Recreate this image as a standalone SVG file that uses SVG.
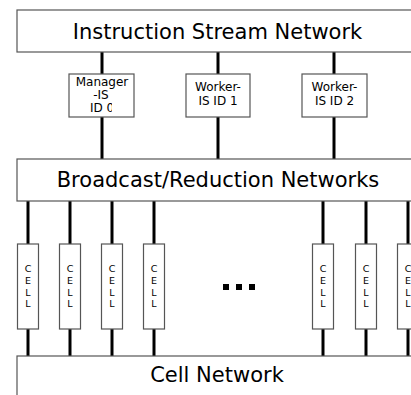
<svg xmlns="http://www.w3.org/2000/svg" width="411" height="395" viewBox="0 0 411 395">
  <style>
    .box { fill: #ffffff; stroke: #555555; stroke-width: 1.2; }
    .wire { stroke: #000000; stroke-width: 3; fill: none; }
    .big { font-family: "DejaVu Sans", Verdana, sans-serif; font-size: 21px; fill: #000000; text-anchor: middle; }
    .small { font-family: "DejaVu Sans", Verdana, sans-serif; font-size: 12px; fill: #000000; text-anchor: middle; }
    .cell { font-family: "DejaVu Sans", Verdana, sans-serif; font-size: 9.5px; fill: #000000; text-anchor: middle; }
    .dots { fill: #000000; }
  </style>
  <defs>
    <clipPath id="mgrClip">
      <rect x="69" y="74" width="43" height="43"/>
    </clipPath>
  </defs>
  <rect width="411" height="395" fill="#ffffff"/>

  <!-- connectors -->
  <g id="connectors">
    <line class="wire" x1="102" y1="52" x2="102" y2="74"/>
    <line class="wire" x1="218" y1="52" x2="218" y2="74"/>
    <line class="wire" x1="334" y1="52" x2="334" y2="74"/>
    <line class="wire" x1="102" y1="117" x2="102" y2="159"/>
    <line class="wire" x1="218" y1="117" x2="218" y2="159"/>
    <line class="wire" x1="334" y1="117" x2="334" y2="159"/>

    <line class="wire" x1="28" y1="201" x2="28" y2="244"/>
    <line class="wire" x1="70" y1="201" x2="70" y2="244"/>
    <line class="wire" x1="112" y1="201" x2="112" y2="244"/>
    <line class="wire" x1="154" y1="201" x2="154" y2="244"/>
    <line class="wire" x1="323" y1="201" x2="323" y2="244"/>
    <line class="wire" x1="366" y1="201" x2="366" y2="244"/>
    <line class="wire" x1="408" y1="201" x2="408" y2="244"/>

    <line class="wire" x1="28" y1="329" x2="28" y2="356"/>
    <line class="wire" x1="70" y1="329" x2="70" y2="356"/>
    <line class="wire" x1="112" y1="329" x2="112" y2="356"/>
    <line class="wire" x1="154" y1="329" x2="154" y2="356"/>
    <line class="wire" x1="323" y1="329" x2="323" y2="356"/>
    <line class="wire" x1="366" y1="329" x2="366" y2="356"/>
    <line class="wire" x1="408" y1="329" x2="408" y2="356"/>
  </g>

  <!-- instruction stream network -->
  <g id="isn">
    <rect class="box" x="17" y="10" width="410" height="42"/>
    <text class="big" x="217.5" y="38.5">Instruction Stream Network</text>
  </g>

  <!-- instruction stream processors -->
  <g id="manager-is">
    <rect class="box" x="69" y="74" width="65" height="43"/>
    <text class="small" x="102" y="85.5">Manager</text>
    <text class="small" x="101" y="98.5">-IS</text>
    <text class="small" x="102" y="111.5" clip-path="url(#mgrClip)">ID 0</text>
  </g>
  <g id="worker-is-1">
    <rect class="box" x="186" y="74" width="64" height="43"/>
    <text class="small" x="218" y="91">Worker-</text>
    <text class="small" x="218" y="105">IS ID 1</text>
  </g>
  <g id="worker-is-2">
    <rect class="box" x="302" y="74" width="65" height="43"/>
    <text class="small" x="334.5" y="91">Worker-</text>
    <text class="small" x="334.5" y="105">IS ID 2</text>
  </g>

  <!-- broadcast / reduction networks -->
  <g id="brn">
    <rect class="box" x="17" y="159" width="410" height="42"/>
    <text class="big" x="218" y="187">Broadcast/Reduction Networks</text>
  </g>

  <!-- cells -->
  <g id="cell-1">
    <rect class="box" x="17.5" y="244" width="21" height="85"/>
    <text class="cell" x="28" y="272">C</text><text class="cell" x="28" y="284">E</text>
    <text class="cell" x="28" y="295.5">L</text><text class="cell" x="28" y="306.5">L</text>
  </g>
  <g id="cell-2">
    <rect class="box" x="59.5" y="244" width="21" height="85"/>
    <text class="cell" x="70" y="272">C</text><text class="cell" x="70" y="284">E</text>
    <text class="cell" x="70" y="295.5">L</text><text class="cell" x="70" y="306.5">L</text>
  </g>
  <g id="cell-3">
    <rect class="box" x="101.5" y="244" width="21" height="85"/>
    <text class="cell" x="112" y="272">C</text><text class="cell" x="112" y="284">E</text>
    <text class="cell" x="112" y="295.5">L</text><text class="cell" x="112" y="306.5">L</text>
  </g>
  <g id="cell-4">
    <rect class="box" x="143.5" y="244" width="21" height="85"/>
    <text class="cell" x="154" y="272">C</text><text class="cell" x="154" y="284">E</text>
    <text class="cell" x="154" y="295.5">L</text><text class="cell" x="154" y="306.5">L</text>
  </g>
  <g id="cell-n2">
    <rect class="box" x="312.5" y="244" width="21" height="85"/>
    <text class="cell" x="323" y="272">C</text><text class="cell" x="323" y="284">E</text>
    <text class="cell" x="323" y="295.5">L</text><text class="cell" x="323" y="306.5">L</text>
  </g>
  <g id="cell-n1">
    <rect class="box" x="355.5" y="244" width="21" height="85"/>
    <text class="cell" x="366" y="272">C</text><text class="cell" x="366" y="284">E</text>
    <text class="cell" x="366" y="295.5">L</text><text class="cell" x="366" y="306.5">L</text>
  </g>
  <g id="cell-n">
    <rect class="box" x="397.5" y="244" width="21" height="85"/>
    <text class="cell" x="408" y="272">C</text><text class="cell" x="408" y="284">E</text>
    <text class="cell" x="408" y="295.5">L</text><text class="cell" x="408" y="306.5">L</text>
  </g>

  <!-- ellipsis between cell groups -->
  <g id="ellipsis" class="dots">
    <rect x="223" y="284" width="6" height="6"/>
    <rect x="236" y="284" width="6" height="6"/>
    <rect x="249" y="284" width="6" height="6"/>
  </g>

  <!-- cell network -->
  <g id="cell-network">
    <rect class="box" x="17" y="356" width="410" height="50"/>
    <text class="big" x="217" y="382">Cell Network</text>
  </g>
</svg>
